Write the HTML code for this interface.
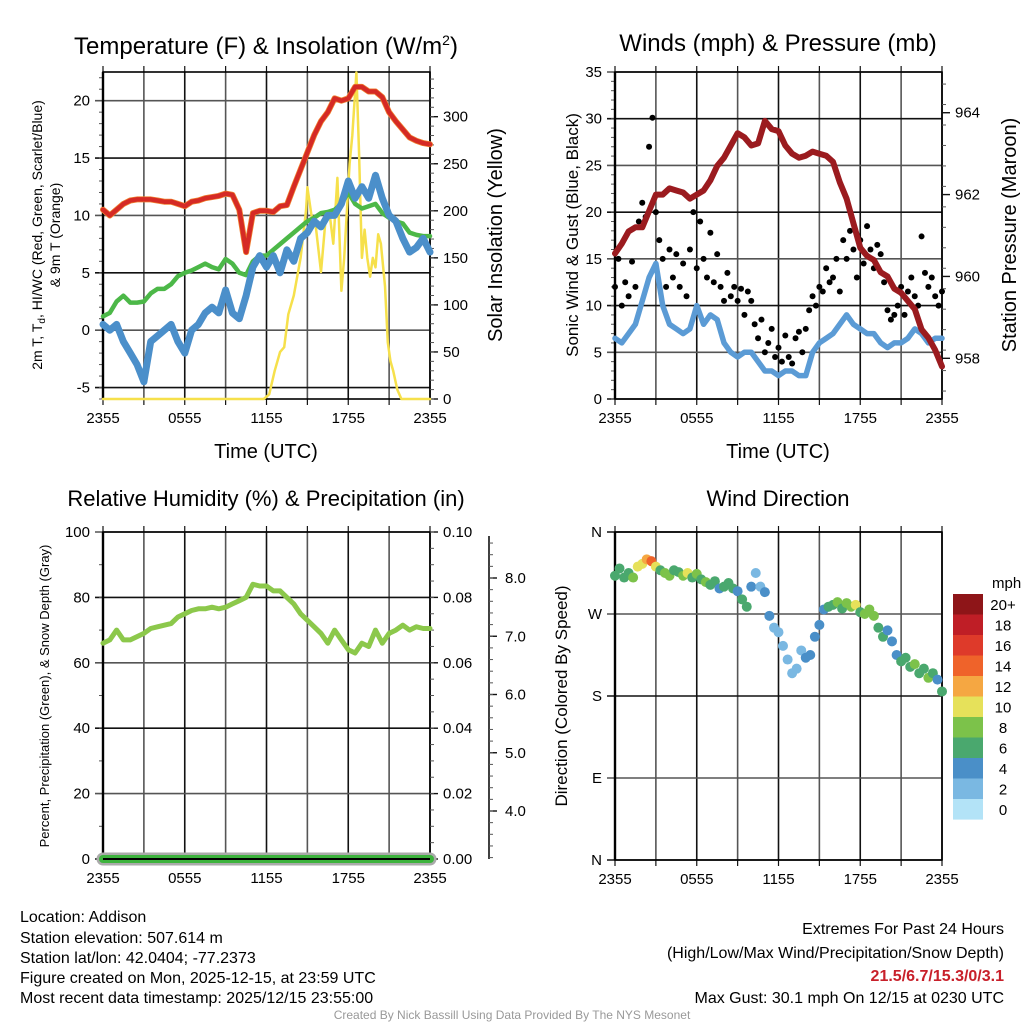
<!DOCTYPE html>
<html><head><meta charset="utf-8"><style>
html,body{margin:0;padding:0;background:#fff;}
svg{display:block;font-family:"Liberation Sans",sans-serif;}
</style></head><body>
<svg id="s" width="1024" height="1024" viewBox="0 0 1024 1024" xmlns="http://www.w3.org/2000/svg">
<text x="266" y="54" font-size="24" text-anchor="middle">Temperature (F) &amp; Insolation (W/m<tspan dy="-9" font-size="14">2</tspan><tspan dy="9">)</tspan></text>
<text x="778" y="51" font-size="24" text-anchor="middle">Winds (mph) &amp; Pressure (mb)</text>
<text x="266" y="506" font-size="22" text-anchor="middle">Relative Humidity (%) &amp; Precipitation (in)</text>
<text x="778" y="506" font-size="22" text-anchor="middle">Wind Direction</text>

<text transform="translate(42,235) rotate(-90)" font-size="14" text-anchor="middle">2m T, T<tspan font-size="10" dy="3">d</tspan><tspan dy="-3">, HI/WC (Red, Green, Scarlet/Blue)</tspan></text>
<text transform="translate(60,235) rotate(-90)" font-size="14" text-anchor="middle">&amp; 9m T (Orange)</text>
<text transform="translate(502,235) rotate(-90)" font-size="20" text-anchor="middle">Solar Insolation (Yellow)</text>
<text transform="translate(578,235) rotate(-90)" font-size="17" text-anchor="middle">Sonic Wind &amp; Gust (Blue, Black)</text>
<text transform="translate(1016,235) rotate(-90)" font-size="20" text-anchor="middle">Station Pressure (Maroon)</text>
<text transform="translate(49,696) rotate(-90)" font-size="13" text-anchor="middle">Percent, Precipitation (Green), &amp; Snow Depth (Gray)</text>
<text transform="translate(567,696) rotate(-90)" font-size="17" text-anchor="middle">Direction (Colored By Speed)</text>
<text x="266" y="458" font-size="20" text-anchor="middle">Time (UTC)</text>
<text x="778" y="458" font-size="20" text-anchor="middle">Time (UTC)</text>

<g font-size="16">
<text x="20" y="922">Location: Addison</text>
<text x="20" y="943">Station elevation: 507.614 m</text>
<text x="20" y="963">Station lat/lon: 42.0404; -77.2373</text>
<text x="20" y="983">Figure created on Mon, 2025-12-15, at 23:59 UTC</text>
<text x="20" y="1003">Most recent data timestamp: 2025/12/15 23:55:00</text>
<text x="1004" y="934" text-anchor="end">Extremes For Past 24 Hours</text>
<text x="1004" y="958" text-anchor="end">(High/Low/Max Wind/Precipitation/Snow Depth)</text>
<text x="1004" y="981" text-anchor="end" fill="#c8202a" font-weight="bold">21.5/6.7/15.3/0/3.1</text>
<text x="1004" y="1003" text-anchor="end">Max Gust: 30.1 mph On 12/15 at 0230 UTC</text>
<text x="512" y="1019" text-anchor="middle" font-size="12" fill="#999">Created By Nick Bassill Using Data Provided By The NYS Mesonet</text>
</g>
</svg>
<script>
// ---- data ----
const xTickLabels = ["2355","0555","1155","1755","2355"];
const tempRed = [10.5,10,10.5,11,11.3,11.4,11.4,11.4,11.3,11.2,11.2,11,10.8,11.2,11.3,11.5,11.6,11.7,11.9,11.8,10.5,6.8,10.2,10.4,10.4,10.3,10.8,10.9,12.5,14,15.5,17,18.2,19,20.2,20,20.2,21.2,21.2,20.8,20.8,20.3,19,18.2,17.5,16.8,16.5,16.3,16.2];
const tempGreen = [1.2,1.5,2.5,3.0,2.4,2.4,2.5,3.2,3.6,3.6,4.0,4.7,5.0,5.2,5.5,5.8,5.5,5.3,6.2,5.8,5.0,4.8,6,6.5,6.5,7,7.5,8,8.5,9,9.5,9.8,10.2,10.3,10.5,11.0,12,11,10.6,10.8,11,10.2,9.8,9.5,9.3,8.5,8.3,8.2,8.2];
const tempBlue = [0.5,0,0.5,-1,-2,-3,-4.5,-1,-0.5,0,0.5,-1,-2,0,0.5,1.5,2,1.5,3.5,1.5,1,3,5.5,6.5,5.5,6.5,5,7,6,8,8.5,9.5,9,10,10,11,13,11.5,12.5,11.5,13.5,11.5,10,9.5,8,6.8,7.2,8,6.8];
const solarT = [0,11.8,12.2,12.6,13.0,13.3,13.6,14,14.5,14.9,15.0,15.3,15.6,16.0,16.3,16.6,16.9,17.2,17.5,17.7,17.9,18.1,18.3,18.6,18.8,19.0,19.2,19.4,19.6,19.8,20.0,20.2,20.4,20.7,20.9,21.1,21.3,21.6,21.9,24];
const solarV = [0,0,5,30,50,55,90,110,150,200,225,195,185,135,185,200,165,235,115,150,200,250,280,347,260,150,180,150,130,150,140,175,165,120,60,40,30,10,0,0];
const windSonic = [6.5,6,7,8,10.5,13,14.5,10,8,7.5,7,7.5,10,8,9,8.5,6,5,4.5,5,5,4,3,3,2.5,3,3,2.5,2.5,5,6,6.5,7,8,9,8,7.5,7,7,6,5.5,6,6,6.5,7.5,7,6,6.5,6.5];
const windGust = [12,15,10,12.5,11,14.7,12,19,21,19.5,27,30.1,20,17,15,12,16,13,15.5,12,14.5,11,16,20,14,19,15,13,17.8,12.5,15.5,12,10.5,13.5,11,12,10.5,11.8,9,11.5,10.5,8,6.5,8.5,5,6,7.5,4.5,5.5,4,6.8,4.5,3.8,6.5,7.2,5,7.5,9.5,11,10,12,11.5,14,12.5,13,15,11.5,17,15,18,16,13,17,14.5,18.5,16,14,16.5,15.5,12.5,9.5,8.5,9,10,12,9,11.5,13,11,10,17.4,13.5,12,13,11,10,11.5];
const pressure = [960.56,960.8,961.1,961.2,961.2,961.6,962.0,962.0,962.15,962.1,962.05,961.9,962.0,962.1,962.35,962.7,962.9,963.2,963.5,963.4,963.2,963.25,963.8,963.6,963.55,963.2,963.0,962.9,962.95,963.05,963.0,962.95,962.8,962.3,961.9,961.3,960.7,960.5,960.4,960.1,960.0,959.7,959.6,959.4,959.2,958.7,958.5,958.2,957.8];
const rh = [66,67,70,67,67,68,69,70.5,71,71.5,72,74,75,76,76.5,76.5,77,76.5,77,78,79,80,84,83.5,83.5,82,82,80,78,75,73,71,69,66,70,67,64,63,66,65,70,66,69,70,71.5,70,71,70.5,70.5];
const precip = [0,0];
const dirT = [0,0.33,0.67,1,1.33,1.67,2,2.33,2.67,3,3.33,3.67,4,4.33,4.67,5,5.33,5.67,6,6.33,6.67,7,7.33,7.67,8,8.33,8.67,9,9.33,9.67,10,10.33,10.67,11,11.33,11.67,12,12.33,12.67,13,13.33,13.67,14,14.33,14.67,15,15.33,15.67,16,16.33,16.67,17,17.33,17.67,18,18.33,18.67,19,19.33,19.67,20,20.33,20.67,21,21.33,21.67,22,22.33,22.67,23,23.33,23.67,24];
const dirDeg = [312,320,310,315,310,322,325,330,328,322,318,315,312,318,316,312,315,310,314,308,305,302,306,298,300,304,298,295,286,278,300,315,300,294,268,255,250,235,220,205,210,230,222,225,245,258,275,278,280,283,276,282,278,280,272,270,275,268,255,245,252,240,225,218,222,212,215,205,210,200,205,198,185];
const dirSpd = [7,6,7,6,8,10,11,13,14,10,7,8,8,7,6,8,10,7,8,7,8,6,6,4,7,6,6,4,6,6,4,3,3,4,4,2,2,2,2,3,2,3,4,4,5,4,4,6,7,8,7,9,8,10,7,8,8,8,7,7,4,4,4,6,7,6,8,6,7,8,7,4,6];
const cbLabels = ["20+","18","16","14","12","10","8","6","4","2","0"];
const cbColors = ["#8e1518","#bf1e26","#de3a2a","#ef632a","#f5a742","#e6e15a","#7cc24a","#4aa86e","#4a8fc8","#7ab8e2","#b3e3f7"];

const S = document.getElementById('s');
const NS = 'http://www.w3.org/2000/svg';
function mk(tag, attrs, parent){ const e=document.createElementNS(NS,tag); for(const k in attrs) e.setAttribute(k,attrs[k]); (parent||S).appendChild(e); return e; }

function panel(name, x0, x1, y0, y1){
  const g = mk('g',{});
  
  
  const xs = t => x0 + t/24*(x1-x0);
  return {g, xs, x0, x1, y0, y1};
}
function grid(P, yVals, ys, leftLabels, minorY){
  const {g,xs,x0,x1,y0,y1} = P;
  for(let h=0;h<=24;h+=3){
    const l = mk('line',{x1:xs(h),x2:xs(h),y1:y0,y2:y1,stroke:(h%6?'#555':'#111'),'stroke-width':1.6},g);
    
    
    mk('line',{x1:xs(h),x2:xs(h),y1:y0-6,y2:y0,stroke:'#111','stroke-width':1.2},g);
    mk('line',{x1:xs(h),x2:xs(h),y1:y1,y2:y1+6,stroke:'#111','stroke-width':1.2},g);
  }
  xTickLabels.forEach((lab,i)=>{
    const t = mk('text',{x:xs(i*6),y:y1+24,'font-size':15,'text-anchor':'middle'},g);
    t.textContent = lab;
    
    
  });
  yVals.forEach((v,i)=>{
    const y = ys(v);
    mk('line',{x1:x0-8,x2:x1,y1:y,y2:y,stroke:(i%2?'#555':'#111'),'stroke-width':1.6},g);
    if(leftLabels){
      const t = mk('text',{x:x0-13,y:y+5,'font-size':15,'text-anchor':'end'},g);
      t.textContent = leftLabels[i];
      
      
    }
  });
  (minorY||[]).forEach(v=>{ const y=ys(v); if(y>=y0-1&&y<=y1+1) mk('line',{x1:x0-4,x2:x0,y1:y,y2:y,stroke:'#555','stroke-width':1},g); });
  mk('rect',{x:x0,y:y0,width:x1-x0,height:y1-y0,fill:'none',stroke:'#000','stroke-width':1.6},g);
  mk('line',{x1:x0,x2:x0,y1:y0,y2:y1,stroke:'#000','stroke-width':2.4},g);
}
function rightAxis(P, vals, ys, labels, minor){
  const {g,x1,y0,y1} = P;
  vals.forEach((v,i)=>{
    const y=ys(v);
    mk('line',{x1:x1,x2:x1+8,y1:y,y2:y,stroke:'#111','stroke-width':1.4},g);
    const t = mk('text',{x:x1+13,y:y+5,'font-size':15},g);
    t.textContent = labels[i];
    
    
  });
  minor.forEach(v=>{ const y=ys(v); if(y>=y0-1&&y<=y1+1) mk('line',{x1:x1,x2:x1+4,y1:y,y2:y,stroke:'#555','stroke-width':1},g); });
}
function line(P, vals, ys, color, w, name, tArr){
  const pts = vals.map((v,i)=> (tArr?P.xs(tArr[i]):P.xs(i*24/(vals.length-1))).toFixed(1)+','+ys(v).toFixed(1)).join(' ');
  const pl = mk('polyline',{points:pts,fill:'none',stroke:color,'stroke-width':w,'stroke-linejoin':'round','stroke-linecap':'round'},P.g);
  
  
  return pl;
}
function range(a,b,s){ const r=[]; for(let v=a; v<=b+1e-9; v+=s) r.push(+v.toFixed(4)); return r; }

// ---- panel 1: temperature ----
const P1 = panel('temperature-panel',103,430,72,399);
const yT = v => 399 - (v+6)/28.5*327;
const yS = v => 399 - v*0.941;
grid(P1,[-5,0,5,10,15,20],yT,["-5","0","5","10","15","20"],range(-6,22,1));
rightAxis(P1,[0,50,100,150,200,250,300],yS,["0","50","100","150","200","250","300"],range(0,340,10));
line(P1,solarV,yS,'#f6e04b',2.5,'solar-insolation-line',solarT);
line(P1,tempGreen,yT,'#4cb848',4.5,'dewpoint-line');
line(P1,tempBlue,yT,'#4b8fca',7,'wind-chill-line');
line(P1,tempRed,yT,'#f08030',6,'temp-9m-line');
line(P1,tempRed,yT,'#d52a25',4.5,'temperature-line');

// ---- panel 2: winds ----
const P2 = panel('winds-panel',615,942,72,399);
const yW = v => 399 - v/35*327;
const yP = v => 358.3 - (v-958)*40.93;
grid(P2,[0,5,10,15,20,25,30,35],yW,["0","5","10","15","20","25","30","35"],range(0,35,1));
rightAxis(P2,[958,960,962,964],yP,["958","960","962","964"],range(957.2,965.2,0.5));
line(P2,windSonic,yW,'#5b9bd5',5.5,'sonic-wind-line');
windGust.forEach((v,i)=>{
  const c = mk('circle',{cx:P2.xs(i*24/(windGust.length-1)),cy:yW(v),r:3,fill:'#000'},P2.g);
  
  
});
line(P2,pressure,yP,'#9b1b1f',6,'pressure-line');

// ---- panel 3: humidity ----
const P3 = panel('humidity-panel',103,430,532,859);
const yH = v => 859 - v*3.27;
const yPr = v => 859 - v/0.1*327;
grid(P3,[0,20,40,60,80,100],yH,["0","20","40","60","80","100"],range(0,100,10));
rightAxis(P3,[0,0.02,0.04,0.06,0.08,0.1],yPr,["0.00","0.02","0.04","0.06","0.08","0.10"],range(0,0.1,0.005));
const ySn = v => 811 - (v-4)*58.25;
mk('line',{x1:489,x2:489,y1:536,y2:859,stroke:'#111','stroke-width':1.6},P3.g);
[4,5,6,7,8].forEach(v=>{
  mk('line',{x1:489,x2:497,y1:ySn(v),y2:ySn(v),stroke:'#111','stroke-width':1.4},P3.g);
  const t = mk('text',{x:505,y:ySn(v)+5,'font-size':15},P3.g);
  t.textContent = v.toFixed(1);
  
  
});
range(3.2,8.6,0.2).forEach(v=>mk('line',{x1:489,x2:493,y1:ySn(v),y2:ySn(v),stroke:'#555','stroke-width':1},P3.g));
line(P3,precip,yPr,'#aaa',13,'snow-depth-line');
line(P3,precip,yPr,'#3db33d',8,'precipitation-line');
mk('line',{x1:103,x2:430,y1:859,y2:859,stroke:'#000','stroke-width':2},P3.g);
line(P3,rh,yH,'#8cc84b',5,'humidity-line');

// ---- panel 4: wind direction ----
const P4 = panel('wind-direction-panel',615,942,532,860);
const yD = v => 860 - v/360*328;
grid(P4,[0,90,180,270,360],yD,["N","E","S","W","N"],[]);
function spdColor(s){ let k=Math.min(10,Math.floor(s/2)); return cbColors[10-k]; }
dirDeg.forEach((d,i)=>{
  const c = mk('circle',{cx:P4.xs(dirT[i]),cy:yD(d),r:5,fill:spdColor(dirSpd[i])},P4.g);
  
  
});
const cb = mk('g',{});


const mph = mk('text',{x:992,y:588,'font-size':15},cb); mph.textContent='mph';
cbColors.forEach((col,i)=>{
  mk('rect',{x:953,y:594+i*20.5,width:30,height:20.6,fill:col},cb);
  const t = mk('text',{x:1003,y:594+i*20.5+16,'font-size':15,'text-anchor':'middle'},cb);
  t.textContent = cbLabels[i];
  
  
});
</script>
</body></html>
